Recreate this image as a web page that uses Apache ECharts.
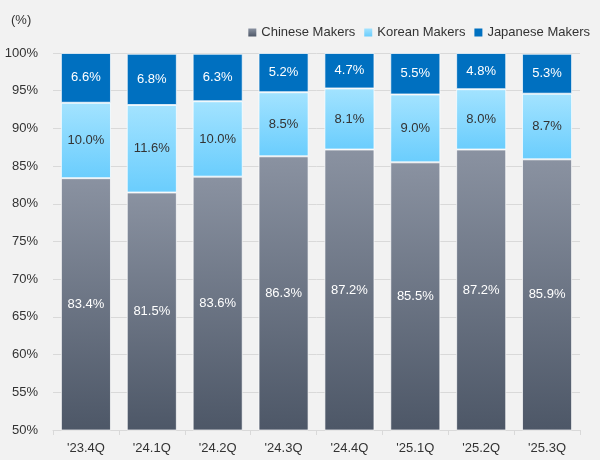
<!DOCTYPE html>
<html><head><meta charset="utf-8">
<script src="https://cdn.jsdelivr.net/npm/echarts@6/dist/echarts.min.js"></script>
<style>html,body{margin:0;padding:0;background:#f2f2f2;}#c{width:600px;height:460px;}</style>
</head><body><div id="c"></div>
<script>
const categories = ["'23.4Q","'24.1Q","'24.2Q","'24.3Q","'24.4Q","'25.1Q","'25.2Q","'25.3Q"];
const chinese = [83.4,81.5,83.6,86.3,87.2,85.5,87.2,85.9];
const korean = [10.0,11.6,10.0,8.5,8.1,9.0,8.0,8.7];
const japanese = [6.6,6.8,6.3,5.2,4.7,5.5,4.8,5.3];
const yTicks = {min:50, max:100, interval:5};

const font = 'Liberation Sans, Arial, sans-serif';
function grad(a,b){return new echarts.graphic.LinearGradient(0,0,0,1,[{offset:0,color:a},{offset:1,color:b}]);}
const chart = echarts.init(document.getElementById('c'));
const lbl = (c)=>({show:true,position:'inside',color:c,fontSize:13,fontFamily:font,formatter:p=>p.value.toFixed(1)+'%'});
chart.setOption({
  backgroundColor:'#f2f2f2',
  animation:false,
  textStyle:{fontFamily:font},
  title:{text:'(%)',left:6,top:9,textStyle:{fontSize:13,fontWeight:'normal',color:'#333',fontFamily:font}},
  legend:{right:5,top:21,itemWidth:8,itemHeight:8,itemGap:9,textStyle:{fontSize:13,color:'#333',fontFamily:font},
    itemStyle:{borderWidth:0},
    data:[{name:'Chinese Makers',icon:'rect'},{name:'Korean Makers',icon:'rect'},{name:'Japanese Makers',icon:'rect'}]},
  grid:{left:53,right:20,top:53,bottom:30},
  xAxis:{type:'category',data:categories,
    axisLine:{show:true,lineStyle:{color:'#d9d9d9'}},
    axisTick:{show:true,lineStyle:{color:'#d9d9d9'},length:5},
    axisLabel:{color:'#333',fontSize:13,margin:12,fontFamily:font}},
  yAxis:{type:'value',min:yTicks.min,max:yTicks.max,interval:yTicks.interval,
    axisLine:{show:false},axisTick:{show:false},
    axisLabel:{color:'#333',fontSize:13,margin:15,formatter:'{value}%',fontFamily:font},
    splitLine:{lineStyle:{color:'#d9d9d9'}}},
  series:[
    {name:'Chinese Makers',type:'bar',stack:'s',barWidth:'76%',data:chinese,clip:true,
      itemStyle:{color:grad('#8a92a1','#4d5767'),borderColor:'rgba(255,255,255,0.7)',borderWidth:1},label:lbl('#fff')},
    {name:'Korean Makers',type:'bar',stack:'s',data:korean,
      itemStyle:{color:grad('#a3e3ff','#6acdfd'),borderColor:'rgba(255,255,255,0.7)',borderWidth:1},label:lbl('#333')},
    {name:'Japanese Makers',type:'bar',stack:'s',data:japanese,
      itemStyle:{color:'#0070c0',borderColor:'rgba(255,255,255,0.7)',borderWidth:1},label:lbl('#fff')}
  ]
});
</script></body></html>
